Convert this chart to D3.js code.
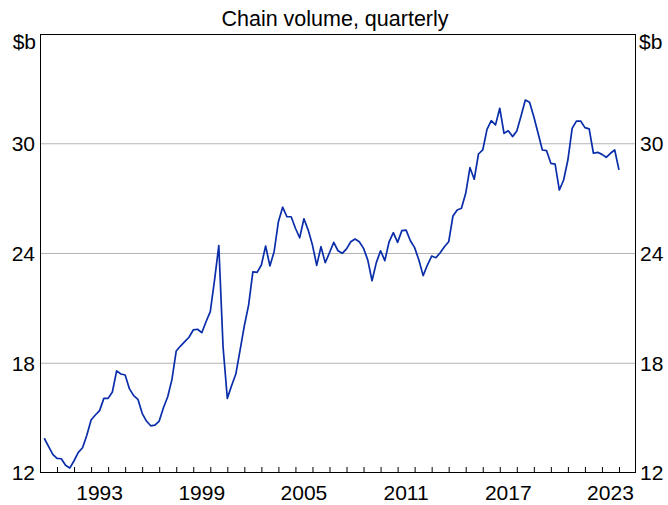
<!DOCTYPE html>
<html>
<head>
<meta charset="utf-8">
<script src="https://cdn.jsdelivr.net/npm/d3@7"></script>
<style>
  html, body { margin: 0; padding: 0; background: #fff; }
  svg { display: block; font-family: Arial, "Liberation Sans", sans-serif; }
</style>
</head>
<body>
<svg id="chart" width="668" height="505"></svg>
<script>
// ---- Data ----
const subtitle = "Chain volume, quarterly";
const unitLabel = "$b";
const startYear = 1990.25;      // first quarter plotted
const quarterStep = 0.25;
const values = [
  13.90, 13.45, 13.02, 12.80, 12.78, 12.42, 12.27, 12.67, 13.13, 13.38,
  14.06, 14.90, 15.17, 15.41, 16.08, 16.08, 16.43, 17.58, 17.41, 17.36,
  16.61, 16.23, 16.03, 15.26, 14.84, 14.58, 14.62, 14.84, 15.57, 16.17,
  17.12, 18.67, 18.94, 19.18, 19.42, 19.82, 19.86, 19.67, 20.27, 20.82,
  22.55, 24.43, 18.90, 16.08, 16.77, 17.41, 18.72, 20.05, 21.18, 23.00,
  22.97, 23.37, 24.41, 23.32, 24.10, 25.74, 26.53, 26.01, 26.01, 25.38,
  24.86, 25.90, 25.28, 24.46, 23.35, 24.37, 23.50, 24.04, 24.61, 24.15,
  24.01, 24.25, 24.64, 24.79, 24.64, 24.28, 23.64, 22.51, 23.50, 24.15,
  23.61, 24.64, 25.14, 24.61, 25.25, 25.28, 24.70, 24.32, 23.64, 22.79,
  23.37, 23.86, 23.77, 24.04, 24.37, 24.64, 26.05, 26.38, 26.47, 27.29,
  28.69, 28.06, 29.44, 29.66, 30.79, 31.26, 31.03, 31.94, 30.57, 30.71,
  30.39, 30.70, 31.52, 32.39, 32.27, 31.48, 30.57, 29.66, 29.62, 28.93,
  28.89, 27.47, 28.02, 29.11, 30.84, 31.24, 31.24, 30.88, 30.81, 29.48,
  29.53, 29.42, 29.26, 29.48, 29.66, 28.57
];
const yTicks = [12, 18, 24, 30];
const xLabelYears = [1993, 1999, 2005, 2011, 2017, 2023];
const xDomain = [1990, 2025];
const yDomain = [12, 36];

// ---- Layout ----
const svg = d3.select("#chart");
const mLeft = 40, mRight = 636, mTop = 34, mBottom = 473;
const fs = 21;

const x = d3.scaleLinear().domain(xDomain).range([mLeft, mRight]);
const y = d3.scaleLinear().domain(yDomain).range([mBottom, mTop]);

const data = values.map((v, i) => ({ t: startYear + i * quarterStep, v }));

// gridlines
svg.append("g").selectAll("line")
  .data(yTicks.filter(d => d > yDomain[0] && d < yDomain[1]))
  .join("line")
  .attr("x1", mLeft).attr("x2", mRight)
  .attr("y1", d => y(d)).attr("y2", d => y(d))
  .attr("stroke", "#b4b4b4").attr("stroke-width", 1);

// x ticks (yearly, inside, pointing up)
const yearTicks = d3.range(xDomain[0] + 1, xDomain[1]);
const xAxis = d3.axisBottom(x).tickValues(yearTicks).tickSize(-6).tickFormat("");
svg.append("g")
  .attr("transform", `translate(0,${mBottom})`)
  .call(xAxis)
  .call(g => g.select(".domain").remove())
  .call(g => g.selectAll(".tick line").attr("stroke", "#000").attr("stroke-width", 1));

// x labels centred in year
svg.append("g").selectAll("text")
  .data(xLabelYears)
  .join("text")
  .attr("x", d => x(d + 0.5))
  .attr("y", 500)
  .attr("text-anchor", "middle")
  .attr("font-size", fs)
  .attr("fill", "#000")
  .text(d => d);

// y labels left & right
const yl = svg.append("g");
yl.selectAll("text.l").data(yTicks).join("text")
  .attr("class", "l")
  .attr("x", mLeft - 5).attr("y", d => y(d))
  .attr("dy", "0.35em")
  .attr("text-anchor", "end")
  .attr("font-size", fs)
  .text(d => d);
yl.selectAll("text.r").data(yTicks).join("text")
  .attr("class", "r")
  .attr("x", mRight + 4).attr("y", d => y(d))
  .attr("dy", "0.35em")
  .attr("text-anchor", "start")
  .attr("font-size", fs)
  .text(d => d);

// unit labels
svg.append("text").attr("x", mLeft - 4).attr("y", 49)
  .attr("text-anchor", "end").attr("font-size", fs).text(unitLabel);
svg.append("text").attr("x", mRight + 3).attr("y", 49)
  .attr("text-anchor", "start").attr("font-size", fs).text(unitLabel);

// subtitle
svg.append("text").attr("x", 335).attr("y", 26)
  .attr("text-anchor", "middle").attr("font-size", 21.5).text(subtitle);

// line
const line = d3.line().x(d => x(d.t)).y(d => y(d.v));
svg.append("path").datum(data)
  .attr("d", line)
  .attr("fill", "none")
  .attr("stroke", "#0a2daa")
  .attr("stroke-width", 1.7)
  .attr("stroke-linejoin", "round");

// frame
svg.append("rect")
  .attr("x", mLeft + 0.5).attr("y", mTop + 0.5)
  .attr("width", mRight - mLeft - 1).attr("height", mBottom - mTop - 1)
  .attr("fill", "none").attr("stroke", "#000").attr("stroke-width", 1);
</script>
</body>
</html>
